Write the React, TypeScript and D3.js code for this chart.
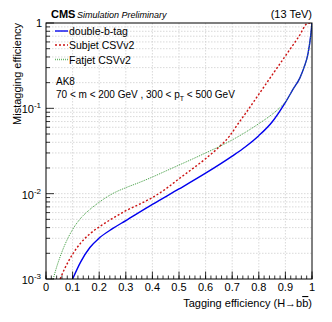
import React from "react";
import * as d3 from "d3";

const blueX = [0.1, 0.13, 0.165, 0.2, 0.25, 0.3, 0.4, 0.5, 0.6, 0.7, 0.75, 0.8, 0.85, 0.9, 0.93, 0.955, 0.97, 0.985, 0.995, 1.0];
const blueY = [0.001, 0.00158, 0.00234, 0.00302, 0.00389, 0.00484, 0.0075, 0.01135, 0.01738, 0.02754, 0.03548, 0.04786, 0.06918, 0.1175, 0.1698, 0.2291, 0.302, 0.4365, 0.7079, 1.0];

const redX = [0.053, 0.07, 0.1, 0.13, 0.165, 0.2, 0.25, 0.3, 0.35, 0.4, 0.45, 0.5, 0.55, 0.6, 0.65, 0.69, 0.72, 0.75, 0.8, 0.85, 0.9, 0.95, 0.986, 1.0];
const redY = [0.001, 0.001318, 0.00195, 0.00263, 0.003388, 0.004074, 0.005129, 0.00631, 0.0075, 0.009016, 0.01135, 0.01496, 0.0195, 0.0257, 0.0351, 0.0473, 0.06457, 0.0871, 0.1459, 0.2455, 0.4111, 0.6887, 1.0, 1.0];

const greenX = [0.027, 0.04, 0.053, 0.078, 0.1, 0.13, 0.165, 0.2, 0.25, 0.3, 0.35, 0.4, 0.45, 0.5, 0.55, 0.6, 0.65, 0.7, 0.75, 0.8, 0.85, 0.88, 0.9, 0.93, 0.955, 0.97, 0.985, 0.995, 1.0];
const greenY = [0.001, 0.00138, 0.00182, 0.00282, 0.0038, 0.00513, 0.00653, 0.00794, 0.01, 0.01175, 0.01349, 0.01567, 0.01841, 0.02163, 0.02541, 0.02999, 0.03548, 0.04266, 0.05248, 0.06607, 0.08511, 0.1023, 0.1189, 0.1698, 0.2291, 0.302, 0.4365, 0.7079, 1.0];

const xTicks = [0, 0.1, 0.2, 0.3, 0.4, 0.5, 0.6, 0.7, 0.8, 0.9, 1];
const xTickLabels = ["0", "0.1", "0.2", "0.3", "0.4", "0.5", "0.6", "0.7", "0.8", "0.9", "1"];
const yDecades = [0.001, 0.01, 0.1, 1];
const yDecadeExp = ["-3", "-2", "-1", ""];

const legendLabels = ["double-b-tag", "Subjet CSVv2", "Fatjet CSVv2"];

const FONT = "Liberation Sans, Arial, sans-serif";

export default function App() {
  const L = 46, R = 312, T = 23, B = 279;
  const x = d3.scaleLinear().domain([0, 1]).range([L, R]);
  const y = d3.scaleLog().domain([0.001, 1]).range([B, T]);

  const mk = (xs: number[], ys: number[]) =>
    d3.line<number>().x((_, i) => x(xs[i])).y((_, i) => y(ys[i])).curve(d3.curveMonotoneX)(xs) || "";

  const minorX = d3.range(0, 1.0001, 0.02);
  const minorY: number[] = [];
  for (const dcd of [0.001, 0.01, 0.1]) for (let k = 2; k <= 9; k++) minorY.push(dcd * k);

  const series = [
    { d: mk(blueX, blueY), color: "#0000ee", dash: "", w: 1.4 },
    { d: mk(redX, redY), color: "#cc1111", dash: "2,2", w: 1.4 },
    { d: mk(greenX, greenY), color: "#3a9a3a", dash: "1,1", w: 1 },
  ];
  const legendY = [31, 45, 59.5];

  return (
    <svg width={332} height={322} style={{ position: "absolute", left: 0, top: 0, background: "#fff" }} fontFamily={FONT}>
      <rect x={0} y={0} width={332} height={322} fill="#fff" />
      {xTicks.slice(1, -1).map((t) => (
        <line key={"gx" + t} x1={x(t)} x2={x(t)} y1={T} y2={B} stroke="#cfcfcf" strokeWidth={0.8} strokeDasharray="1.5,1.5" />
      ))}
      {[...minorY, 0.01, 0.1].map((t) => (
        <line key={"gy" + t} x1={L} x2={R} y1={y(t)} y2={y(t)} stroke="#cfcfcf" strokeWidth={0.8} strokeDasharray="1.5,1.5" />
      ))}
      <defs>
        <clipPath id="clip">
          <rect x={L} y={T} width={R - L} height={B - T} />
        </clipPath>
      </defs>
      <g clipPath="url(#clip)">
        {series.map((s, i) => (
          <path key={i} d={s.d} fill="none" stroke={s.color} strokeWidth={s.w} strokeDasharray={s.dash} />
        ))}
      </g>
      <rect x={L} y={T} width={R - L} height={B - T} fill="none" stroke="#000" strokeWidth={1} />
      {minorX.map((t) => (
        <line key={"mx" + t} x1={x(t)} x2={x(t)} y1={B} y2={B - 3.5} stroke="#000" strokeWidth={0.8} />
      ))}
      {xTicks.map((t) => (
        <line key={"Mx" + t} x1={x(t)} x2={x(t)} y1={B} y2={B - 7.5} stroke="#000" strokeWidth={0.8} />
      ))}
      {xTicks.map((t, i) => (
        <text key={"lx" + t} x={x(t)} y={291} fontSize={11} textAnchor="middle" fill="#000">
          {xTickLabels[i]}
        </text>
      ))}
      {minorY.map((t) => (
        <line key={"my" + t} x1={L} x2={L + 4} y1={y(t)} y2={y(t)} stroke="#000" strokeWidth={0.8} />
      ))}
      {yDecades.map((t) => (
        <line key={"My" + t} x1={L} x2={L + 8} y1={y(t)} y2={y(t)} stroke="#000" strokeWidth={0.8} />
      ))}
      {yDecades.map((t, i) =>
        yDecadeExp[i] === "" ? (
          <text key={"ly" + t} x={42} y={y(t) + 4} fontSize={11} textAnchor="end">1</text>
        ) : (
          <text key={"ly" + t} x={41} y={y(t) + 5} fontSize={11} textAnchor="end">
            10<tspan fontSize={8} dy={-5}>{yDecadeExp[i]}</tspan>
          </text>
        )
      )}
      <text x={R} y={307} fontSize={11} textAnchor="end">
        Tagging efficiency (H→b<tspan textDecoration="overline">b</tspan>)
      </text>
      <text transform={`translate(21,${T}) rotate(-90)`} fontSize={11} textAnchor="end">
        Mistagging efficiency
      </text>
      <text x={51} y={18} fontSize={11} fontWeight="bold">CMS</text>
      <text x={77} y={18} fontSize={9} fontStyle="italic">Simulation Preliminary</text>
      <text x={R} y={18} fontSize={11} textAnchor="end">(13 TeV)</text>
      {series.map((s, i) => (
        <g key={"lg" + i}>
          <line x1={55} x2={68} y1={legendY[i]} y2={legendY[i]} stroke={s.color} strokeWidth={s.w + 0.4} strokeDasharray={s.dash} opacity={0.75} />
          <text x={69} y={legendY[i] + 4} fontSize={10.5}>{legendLabels[i]}</text>
        </g>
      ))}
      <text x={56} y={85} fontSize={10}>AK8</text>
      <text x={56} y={98} fontSize={10}>
        70 &lt; m &lt; 200 GeV , 300 &lt; p<tspan fontSize={7} dy={3}>T</tspan><tspan dy={-3}> &lt; 500 GeV</tspan>
      </text>
    </svg>
  );
}
